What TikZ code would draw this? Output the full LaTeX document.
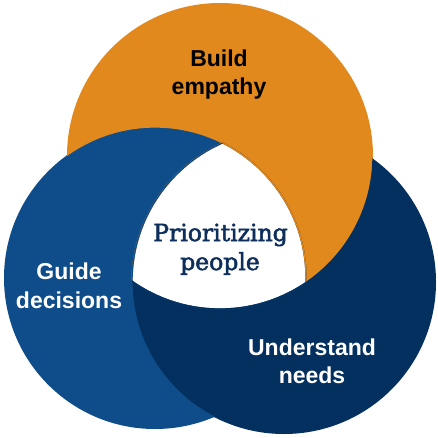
\documentclass[tikz,border=0pt]{standalone}
\usepackage{fontspec}
\setmainfont{Liberation Sans}
\newfontfamily\labelfont{Liberation Sans}
\newfontfamily\centerfont[FakeBold=2.2]{DejaVu Serif}
\definecolor{vorange}{HTML}{E2891E}
\definecolor{vblue}{HTML}{0E4C8A}
\definecolor{vnavy}{HTML}{03305F}
\definecolor{vtext}{HTML}{0E2E5C}
\tikzset{
  lbl/.style={align=center, font=\labelfont\bfseries\fontsize{23}{28}\selectfont, inner sep=0pt},
  ctr/.style={align=center, text=vtext, font=\centerfont\fontsize{23.5}{30}\selectfont, inner sep=0pt},
  seam/.style={line width=1.3pt}
}
\begin{document}
\begin{tikzpicture}[x=1pt,y=-1pt]
\useasboundingbox (0,0) rectangle (438,438);
\def\CO{(220,156) circle[radius=153]}
\def\CB{(155,278) circle[radius=151]}
\def\CN{(284,282) circle[radius=152]}
% base circles
\fill[vorange] \CO;
\fill[vblue] \CB;
\fill[vnavy] \CN;
% cyclic overlaps
\begin{scope}\clip \CB; \fill[vblue] \CO; \end{scope}
\begin{scope}\clip \CN; \fill[vnavy] \CB; \end{scope}
\begin{scope}\clip \CO; \fill[vorange] \CN; \end{scope}
\begin{scope}\clip \CO; \clip \CB; \fill[white] \CN; \end{scope}
% hide anti-aliasing seams along the inner boundaries
\begin{scope}\clip \CO; \draw[seam, vorange] \CN; \end{scope}
\begin{scope}\clip \CB; \draw[seam, vblue] \CO; \end{scope}
\begin{scope}\clip \CN; \draw[seam, vnavy] \CB; \end{scope}
\begin{scope}\clip \CO; \draw[seam, vorange] \CB; \end{scope}
\begin{scope}\clip \CB; \draw[seam, vblue] \CN; \end{scope}
\begin{scope}\clip \CN; \draw[seam, vnavy] \CO; \end{scope}
% labels
\node[lbl, text=black, anchor=base] (build) at (219,67) {Build};
\node[lbl, text=black, anchor=base] (emp) at (219,95) {empathy};
\node[lbl, text=white, anchor=base] (guide) at (69,279) {Guide};
\node[lbl, text=white, anchor=base] (dec) at (69,308) {decisions};
\node[lbl, text=white, anchor=base] (und) at (312,355) {Understand};
\node[lbl, text=white, anchor=base] (needs) at (312,383) {needs};
\node[ctr, anchor=base] (prio) at (220.5,241) {Prioritizing};
\node[ctr, anchor=base] (ppl) at (220,270) {people};
\end{tikzpicture}
\end{document}
